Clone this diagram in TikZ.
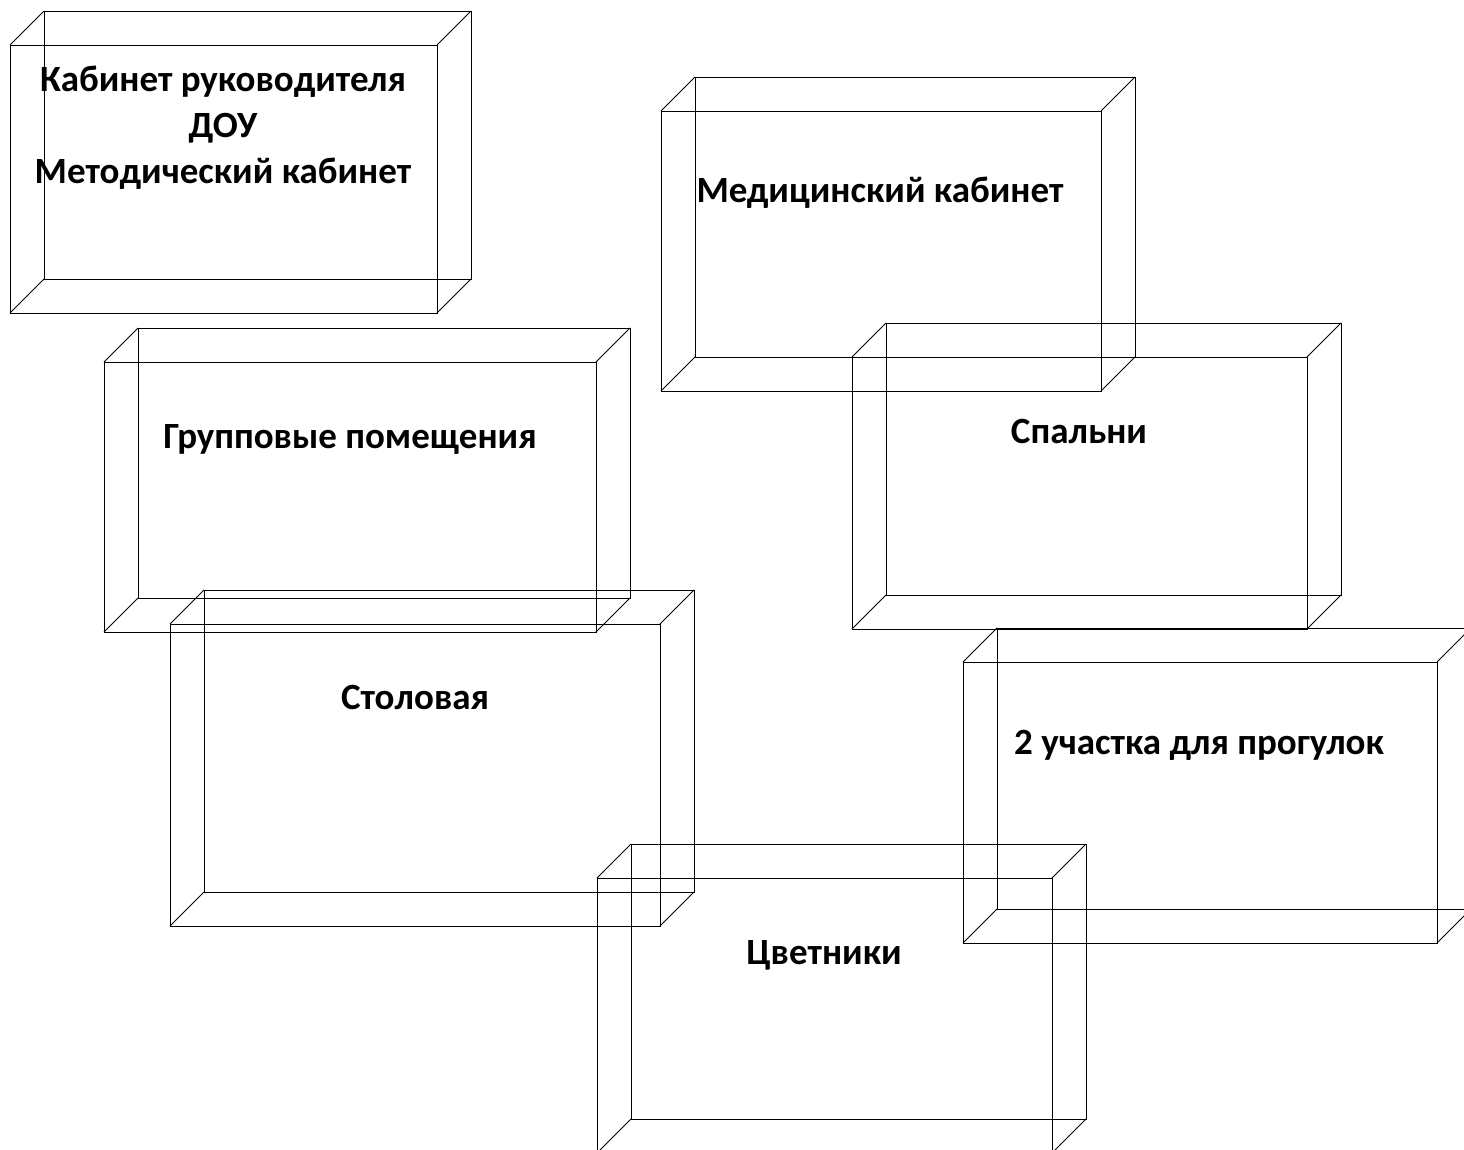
\documentclass[tikz,border=0pt]{standalone}
\usepackage{fontspec}
\setmainfont{Carlito}
\usepackage{tikz}

% one room: front face (#1,#2)-(#3,#4), back face shifted up and right
\newcommand{\roombox}[4]{%
    \draw (#1,#2) rectangle (#3,#4);
    \draw (#1+34,#2-34) rectangle (#3+34,#4-34);
    \draw (#1,#2) -- (#1+34,#2-34);
    \draw (#3,#2) -- (#3+34,#2-34);
    \draw (#1,#4) -- (#1+34,#4-34);
    \draw (#3,#4) -- (#3+34,#4-34);
}

\begin{document}
\begin{tikzpicture}[x=1pt, y=-1pt, line width=1pt,
    room/.style={anchor=base, align=center, inner sep=0pt,
        font=\fontsize{37}{46}\selectfont\bfseries}]
    \useasboundingbox (0,0) rectangle (1464,1149);
    \clip (0,0) rectangle (1464,1149);

    \roombox{10}{45}{437}{313}
    \roombox{661}{111}{1101}{391}
    \roombox{104}{362}{596}{632}
    \roombox{852}{357}{1307}{629}
    \roombox{170}{624}{660}{926}
    \roombox{963}{662}{1437}{943}
    \roombox{597}{878}{1052}{1153}

    % base anchor sits on the last line
    \node[room] (head) at (223,183) {Кабинет руководителя\\ДОУ\\Методический кабинет};
    \node[room] (medic) at (880,202) {Медицинский кабинет};
    \node[room] (groups) at (350,448) {Групповые помещения};
    \node[room] (sleep) at (1079,443) {Спальни};
    \node[room] (dining) at (415,709) {Столовая};
    \node[room] (walks) at (1199,754) {2 участка для прогулок};
    \node[room] (flowers) at (824,964) {Цветники};
\end{tikzpicture}
\end{document}
